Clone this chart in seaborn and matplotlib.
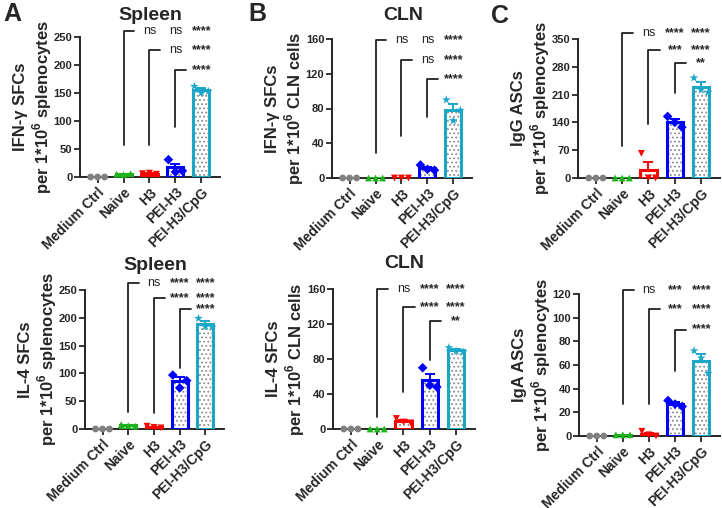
import numpy as np
import pandas as pd
import seaborn as sns
import matplotlib.pyplot as plt

# groups and replicate values (3 mice per group)
groups = ["Medium Ctrl", "Naive", "H3", "PEI-H3", "PEI-H3/CpG"]
colors = ["#808080", "#1DB31D", "#FF0000", "#0000FF", "#1AA7C8"]
markers = ["o", "^", "v", "D", "*"]

ifn_spleen = [[0, 0, 0], [5, 4, 6], [6, 7, 5], [31, 9, 11], [162, 150, 153]]
il4_spleen = [[0, 0, 0], [8, 6, 5], [5, 3, 2], [97, 74, 87], [199, 184, 183]]
ifn_cln = [[0, 0, 0], [0, 0, 0], [0, 0, 0], [15, 10, 9], [90, 66, 78]]
il4_cln = [[0, 0, 0], [0, 0, 0], [12, 8, 7], [70, 50, 48], [93, 89, 88]]
igg_asc = [[0, 0, 0], [0, 0, 0], [62, 0, 0], [155, 140, 128], [252, 222, 216]]
iga_asc = [[0, 0, 0], [1, 1, 1], [4, 1, 0], [30, 27, 25], [72, 66, 53]]

# significance rows: Naive vs ..., H3 vs ..., PEI-H3 vs ...
sig_ifn_spleen = [["ns", "ns", "****"], ["ns", "****"], ["****"]]
sig_il4_spleen = [["ns", "****", "****"], ["****", "****"], ["****"]]
sig_ifn_cln = [["ns", "ns", "****"], ["ns", "****"], ["****"]]
sig_il4_cln = [["ns", "****", "****"], ["****", "****"], ["**"]]
sig_igg = [["ns", "****", "****"], ["***", "****"], ["**"]]
sig_iga = [["ns", "***", "****"], ["***", "****"], ["****"]]

# bracket (bottom, top) in data units
br_ifn_spleen = [(57, 260), (57, 227), (89, 191)]
br_il4_spleen = [(30, 262), (29, 236), (110, 216)]
br_ifn_cln = [(29, 159), (48, 136), (70, 114)]
br_il4_cln = [(14, 160), (42, 139), (79, 123)]
br_igg = [(81, 365), (136, 322), (214, 289)]
br_iga = [(27, 123), (27, 107), (55, 90)]

sns.set_style("ticks")
plt.rcParams["font.family"] = ["Liberation Sans", "DejaVu Sans"]
plt.rcParams["font.weight"] = "bold"
plt.rcParams["mathtext.fontset"] = "custom"
plt.rcParams["mathtext.rm"] = "Liberation Sans:bold"
plt.rcParams["mathtext.bf"] = "Liberation Sans:bold"
plt.rcParams["hatch.linewidth"] = 0.8

W, H = 722, 508
fig = plt.figure(figsize=(W / 100, H / 100), dpi=100)


def add_ax(l, t, r, b):
    return fig.add_axes([l / W, 1 - b / H, (r - l) / W, (b - t) / H])


def panel(ax, values, ymax, ystep, ylabel, sig, brackets):
    df = pd.DataFrame({"group": np.repeat(groups, 3),
                       "value": np.concatenate(values).astype(float)})
    df["pos"] = np.repeat(np.arange(len(groups)), 3)
    df["x"] = df["pos"] + np.tile([-0.27, 0, 0.27], len(groups))

    # error bars (mean + SEM), partly hidden behind the white bars
    stats = df.groupby("pos")["value"].agg(["mean", "sem"])
    for i in stats.index:
        ax.errorbar(i, stats.loc[i, "mean"], yerr=stats.loc[i, "sem"],
                    color=colors[i], capsize=3.5, lw=1.4, capthick=1.4, zorder=1.5)

    # hatched fill, then coloured outline
    sns.barplot(data=df, x="pos", y="value", errorbar=None, color="white",
                edgecolor="#8c8c8c", linewidth=0, hatch="....", width=0.62,
                saturation=1, ax=ax, zorder=2)
    sns.barplot(data=df, x="pos", y="value", hue="group", hue_order=groups,
                palette=colors, errorbar=None, fill=False, linewidth=2.2,
                width=0.62, saturation=1, dodge=False, legend=False, ax=ax, zorder=3)

    sizes = {g: (45 if m == "*" else 24) for g, m in zip(groups, markers)}
    sns.scatterplot(data=df, x="x", y="value", hue="group", style="group",
                    size="group", sizes=sizes, hue_order=groups, style_order=groups,
                    palette=colors, markers=markers, linewidth=0, legend=False,
                    ax=ax, zorder=4, clip_on=False)

    ax.set_xlim(-0.68, 4.72)
    ax.set_ylim(0, ymax)
    ax.set_yticks(np.arange(0, ymax + 1, ystep))
    ax.set_xticks(range(len(groups)))
    ax.set_xticklabels(groups, rotation=45, ha="right", va="top",
                       rotation_mode="anchor", fontsize=10, fontweight="bold")
    ax.tick_params(axis="y", labelsize=8, length=4, width=1.3, pad=1.5)
    ax.tick_params(axis="x", length=4, width=1.3, pad=2)
    for lab in ax.get_yticklabels():
        lab.set_fontweight("bold")
    ax.set_xlabel("")
    ax.set_ylabel(ylabel, fontsize=12, fontweight="bold", linespacing=1.1, labelpad=0)
    sns.despine(ax=ax)
    for s in ["left", "bottom"]:
        ax.spines[s].set_linewidth(1.4)

    # comparison brackets with significance labels
    for k, ((lo, hi), row) in enumerate(zip(brackets, sig)):
        ref = k + 1
        ax.plot([ref, ref, ref + 0.42], [lo, hi, hi], color="#222222", lw=1.3,
                clip_on=False, zorder=5)
        for j, txt in enumerate(row):
            ax.text(ref + 1 + j, hi, txt, ha="center", va="center",
                    fontsize=9, fontweight="normal" if txt == "ns" else "bold")


sp = "per 1*10$^{\\mathbf{6}}$ splenocytes"
cl = "per 1*10$^{\\mathbf{6}}$ CLN cells"

ax = add_ax(80, 37, 220, 177)
panel(ax, ifn_spleen, 250, 50, "IFN-γ SFCs\n" + sp, sig_ifn_spleen, br_ifn_spleen)
ax = add_ax(332, 39, 472, 178)
panel(ax, ifn_cln, 160, 40, "IFN-γ SFCs\n" + cl, sig_ifn_cln, br_ifn_cln)
ax = add_ax(578, 39, 720, 178)
panel(ax, igg_asc, 350, 70, "IgG ASCs\n" + sp, sig_igg, br_igg)
ax = add_ax(85, 290, 224, 429)
panel(ax, il4_spleen, 250, 50, "IL-4 SFCs\n" + sp, sig_il4_spleen, br_il4_spleen)
ax = add_ax(333, 289, 475, 429)
panel(ax, il4_cln, 160, 40, "IL-4 SFCs\n" + cl, sig_il4_cln, br_il4_cln)
ax = add_ax(579, 294, 720, 436)
panel(ax, iga_asc, 120, 20, "IgA ASCs\n" + sp, sig_iga, br_iga)

# panel titles and letters, placed in figure pixels
for txt, (px, py) in zip(["Spleen", "CLN", "Spleen", "CLN"],
                         [(150, 16), (403, 15), (155, 265), (404, 264)]):
    fig.text(px / W, 1 - py / H, txt, fontsize=14, fontweight="bold",
             ha="center", va="center")
for letter, (px, py) in zip("ABC", [(12, 14), (257, 14), (500, 16)]):
    fig.text(px / W, 1 - py / H, letter, fontsize=18, fontweight="bold",
             ha="center", va="center")

fig.savefig("out.png", dpi=100)
